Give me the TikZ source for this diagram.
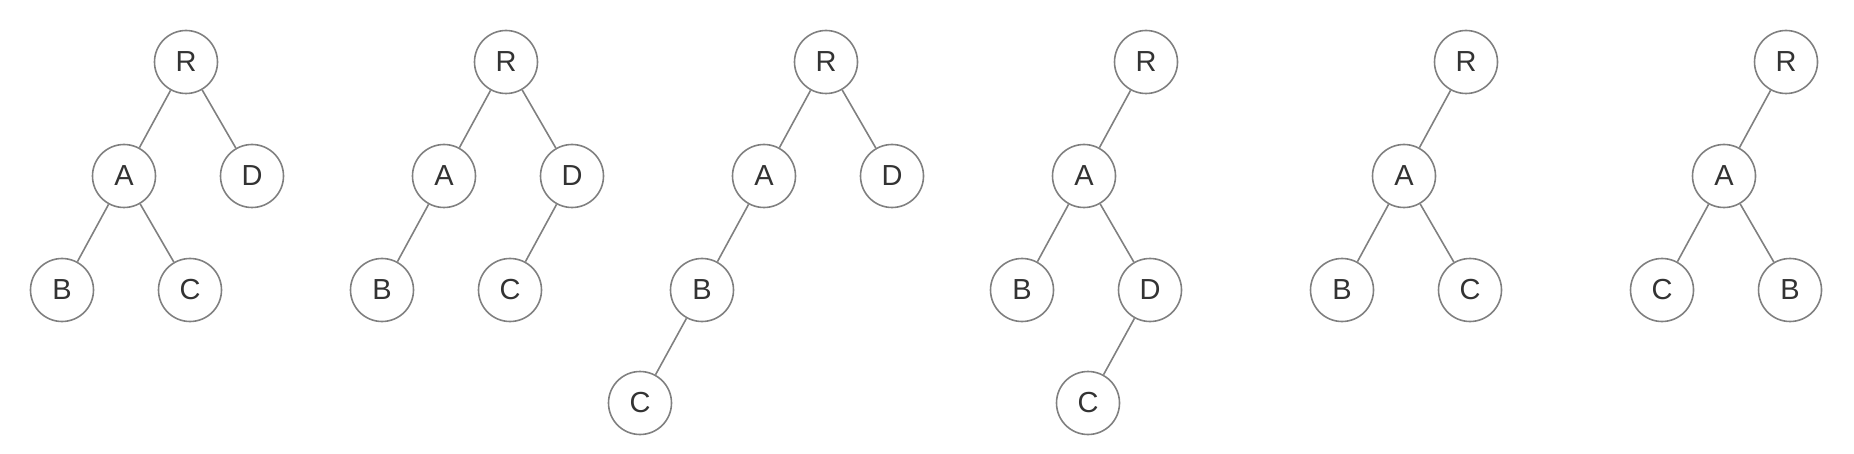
\documentclass[tikz,border=0pt]{standalone}
\usepackage{fontspec}
\setmainfont{Liberation Sans}
\usepackage{xcolor}
\usetikzlibrary{positioning}
\definecolor{edgegray}{HTML}{808080}
\definecolor{labelgray}{HTML}{333333}
\tikzset{
    vertex/.style={circle, draw=edgegray, line width=1.6pt, minimum size=63pt, inner sep=0pt, text=labelgray, font=\fontsize{29}{34}\selectfont},
    branch/.style={draw=edgegray, line width=1.6pt}
}

\begin{document}
\begin{tikzpicture}[x=1pt, y=-1pt]
                        \useasboundingbox (0, 0) rectangle (1854, 454);

                        % first tree
                        \node[vertex] (r1) at (186, 62) {R};
                        \node[vertex] (a1) at (124, 176) {A};
                        \node[vertex] (d1) at (252, 176) {D};
                        \node[vertex] (b1) at (62, 290) {B};
                        \node[vertex] (c1) at (190, 290) {C};
                        \draw[branch]
                        (r1) edge (a1)
                        (r1) edge (d1)
                        (a1) edge (b1)
                        (a1) edge (c1);

                        % second tree
                        \node[vertex] (r2) at (506, 62) {R};
                        \node[vertex] (a2) at (444, 176) {A};
                        \node[vertex] (d2) at (572, 176) {D};
                        \node[vertex] (b2) at (382, 290) {B};
                        \node[vertex] (c2) at (510, 290) {C};
                        \draw[branch]
                        (r2) edge (a2)
                        (r2) edge (d2)
                        (a2) edge (b2)
                        (d2) edge (c2);

                        % third tree
                        \node[vertex] (r3) at (826, 62) {R};
                        \node[vertex] (a3) at (764, 176) {A};
                        \node[vertex] (d3) at (892, 176) {D};
                        \node[vertex] (b3) at (702, 290) {B};
                        \node[vertex] (c3) at (640, 403) {C};
                        \draw[branch]
                        (r3) edge (a3)
                        (r3) edge (d3)
                        (a3) edge (b3)
                        (b3) edge (c3);

                        % fourth tree
                        \node[vertex] (r4) at (1146, 62) {R};
                        \node[vertex] (a4) at (1084, 176) {A};
                        \node[vertex] (b4) at (1022, 290) {B};
                        \node[vertex] (d4) at (1150, 290) {D};
                        \node[vertex] (c4) at (1088, 403) {C};
                        \draw[branch]
                        (r4) edge (a4)
                        (a4) edge (b4)
                        (a4) edge (d4)
                        (d4) edge (c4);

                        % fifth tree
                        \node[vertex] (r5) at (1466, 62) {R};
                        \node[vertex] (a5) at (1404, 176) {A};
                        \node[vertex] (b5) at (1342, 290) {B};
                        \node[vertex] (c5) at (1470, 290) {C};
                        \draw[branch]
                        (r5) edge (a5)
                        (a5) edge (b5)
                        (a5) edge (c5);

                        % sixth tree
                        \node[vertex] (r6) at (1786, 62) {R};
                        \node[vertex] (a6) at (1724, 176) {A};
                        \node[vertex] (c6) at (1662, 290) {C};
                        \node[vertex] (b6) at (1790, 290) {B};
                        \draw[branch]
                        (r6) edge (a6)
                        (a6) edge (c6)
                        (a6) edge (b6);
                    \end{tikzpicture}
\end{document}
